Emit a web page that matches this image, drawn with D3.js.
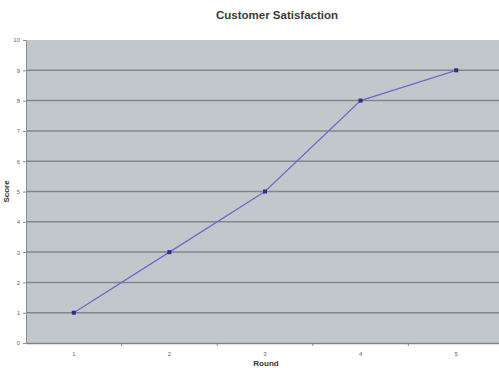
<!DOCTYPE html>
<html>
<head>
<meta charset="utf-8">
<script src="https://cdn.jsdelivr.net/npm/d3@7"></script>
<style>
  html, body { margin: 0; padding: 0; background: #ffffff; }
  svg { display: block; }
</style>
</head>
<body>
<svg id="chart" width="499" height="368"></svg>
<script>
// Customer satisfaction score per round
const rounds = ["1", "2", "3", "4", "5"];
const scores = [1, 3, 5, 8, 9];
const yTicks = [0, 1, 2, 3, 4, 5, 6, 7, 8, 9, 10];

const svg = d3.select("#chart");
const margin = { left: 26, top: 40, bottom: 25 };
const plotRight = 504;
const plotBottom = 368 - margin.bottom;

const x = d3.scaleBand().domain(rounds).range([margin.left, plotRight]);
const y = d3.scaleLinear().domain([0, 10]).range([plotBottom, margin.top]);

// Plot background
svg.append("rect")
  .attr("x", margin.left).attr("y", margin.top)
  .attr("width", plotRight - margin.left)
  .attr("height", plotBottom - margin.top)
  .attr("fill", "#c2c7cb");

// Horizontal gridlines
svg.append("g")
  .selectAll("line")
  .data(yTicks.filter(d => d > 0 && d < 10))
  .join("line")
  .attr("x1", margin.left).attr("x2", plotRight)
  .attr("y1", d => y(d)).attr("y2", d => y(d))
  .attr("stroke", "#80868a").attr("stroke-width", 1.5);

// Y axis
const yAxis = svg.append("g")
  .attr("transform", `translate(${margin.left},0)`)
  .call(d3.axisLeft(y).tickValues(yTicks).tickSize(3).tickPadding(3).tickFormat(d3.format("d")));
yAxis.select(".domain").attr("stroke", "#8a8f93");
yAxis.selectAll(".tick line").attr("stroke", "#8a8f93");
yAxis.selectAll("text").attr("fill", "#666").style("font", "6px Arial, 'Liberation Sans', sans-serif");

// X axis
const xAxis = svg.append("g")
  .attr("transform", `translate(0,${plotBottom})`)
  .call(d3.axisBottom(x).tickSize(0).tickPadding(9));
xAxis.select(".domain").attr("stroke", "#7f8488").attr("stroke-width", 1.6);
xAxis.selectAll("text").attr("fill", "#666").style("font", "6px Arial, 'Liberation Sans', sans-serif");

// Small tick marks between categories
svg.append("g")
  .selectAll("line")
  .data(rounds.slice(1))
  .join("line")
  .attr("x1", d => x(d)).attr("x2", d => x(d))
  .attr("y1", plotBottom).attr("y2", plotBottom + 3)
  .attr("stroke", "#8a8f93");

// Series line
const pts = rounds.map((r, i) => [x(r) + x.bandwidth() / 2, y(scores[i])]);
svg.append("path")
  .attr("d", d3.line()(pts))
  .attr("fill", "none")
  .attr("stroke", "#6c6cc8")
  .attr("stroke-width", 1.3);

// Markers
svg.append("g")
  .selectAll("rect")
  .data(pts)
  .join("rect")
  .attr("x", d => d[0] - 2).attr("y", d => d[1] - 2)
  .attr("width", 4).attr("height", 4)
  .attr("fill", "#2e2e8c");

// Title
svg.append("text")
  .attr("x", 277).attr("y", 19)
  .attr("text-anchor", "middle")
  .style("font", "bold 11.5px Arial, 'Liberation Sans', sans-serif")
  .attr("fill", "#3a3a3a")
  .text("Customer Satisfaction");

// Axis titles
svg.append("text")
  .attr("x", 266).attr("y", 366)
  .attr("text-anchor", "middle")
  .style("font", "bold 8px Arial, 'Liberation Sans', sans-serif")
  .attr("fill", "#333")
  .text("Round");

svg.append("text")
  .attr("transform", `translate(9,${(margin.top + plotBottom) / 2}) rotate(-90)`)
  .attr("text-anchor", "middle")
  .style("font", "bold 8px Arial, 'Liberation Sans', sans-serif")
  .attr("fill", "#333")
  .text("Score");
</script>
</body>
</html>
